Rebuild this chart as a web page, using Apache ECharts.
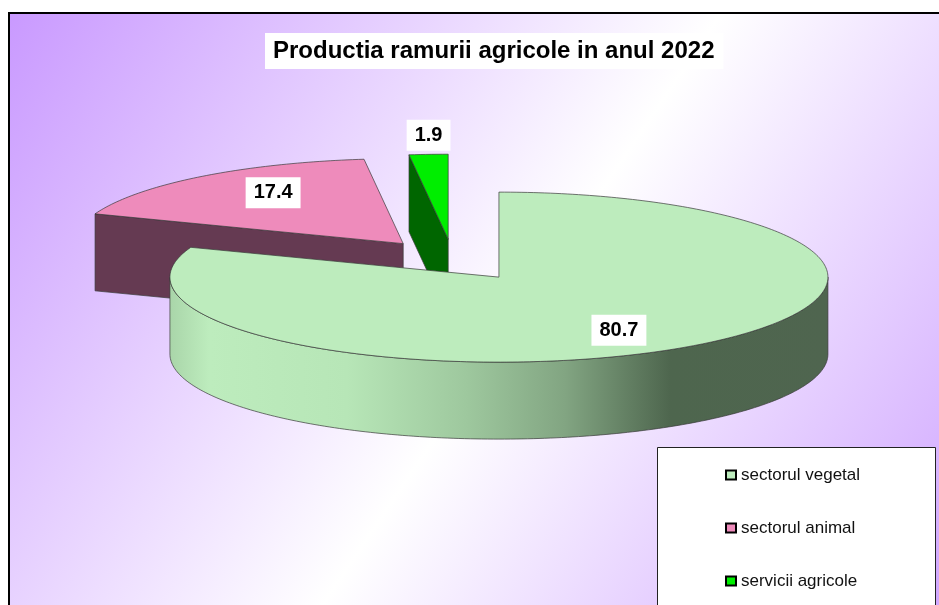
<!DOCTYPE html>
<html lang="ro">
  <head>
    <meta charset="UTF-8">
    <title>Productia ramurii agricole in anul 2022</title>
    <style>
      html, body { margin: 0; padding: 0; background: #fff; }
      #chart { width: 939px; height: 605px; }
    </style>
  </head>
  <body>
    <div id="chart"></div>
    <script src="https://cdn.jsdelivr.net/npm/echarts@6/dist/echarts.min.js"></script>
    <script type="text/javascript">
      // date
      var categories = ['sectorul vegetal', 'sectorul animal', 'servicii agricole'];
      var values = [80.7, 17.4, 1.9];

      // culori: fata de sus, perete lateral
      var topColors = ['#bdecbd', '#ee8bbb', '#00ee00'];
      var sideColors = [null, '#653a52', '#006600'];

      // geometria pie-ului 3D (elipsa)
      var CX = 453, CY = 260, RX = 329, RY = 85, H = 77, EXPLODE = 0.245;

      var total = values.reduce(function (a, b) { return a + b; }, 0);
      var cum = [];
      values.reduce(function (acc, v, i) { cum[i] = acc; return acc + v; }, 0);

      var greenWall = new echarts.graphic.LinearGradient(0, 0, 1, 0, [
        { offset: 0, color: '#a9d5a9' },
        { offset: 0.06, color: '#bdecbd' },
        { offset: 0.27, color: '#b7e6b7' },
        { offset: 0.45, color: '#9ec89e' },
        { offset: 0.6, color: '#82a582' },
        { offset: 0.76, color: '#4e664e' },
        { offset: 1, color: '#4f654f' }
      ]);

      // theta: grade, sensul acelor de ceas de la ora 12
      function pt(ax, ay, th, dy) {
        var r = th * Math.PI / 180;
        return [ax + RX * Math.sin(r), ay - RY * Math.cos(r) + (dy || 0)];
      }

      function arc(ax, ay, a, b, dy) {
        var pts = [];
        var n = Math.max(2, Math.ceil(Math.abs(b - a)));
        for (var i = 0; i <= n; i++) pts.push(pt(ax, ay, a + (b - a) * i / n, dy));
        return pts;
      }

      function renderSlice(params, api) {
        var idx = params.seriesIndex;
        var a = api.value(0) / total * 360;
        var b = a + api.value(1) / total * 360;
        var m = (a + b) / 2 * Math.PI / 180;
        var ax = CX + RX * Math.sin(m) * EXPLODE;
        var ay = CY - RY * Math.cos(m) * EXPLODE;
        var line = { stroke: '#3a3a3a', lineWidth: 0.7 };
        var children = [];

        // fete radiale (vizibile doar cand privesc spre noi)
        [[a, -90], [b, 90]].forEach(function (f) {
          var n = (f[0] + f[1]) * Math.PI / 180;
          if (-Math.cos(n) > 0.02) {
            var o = pt(ax, ay, f[0]);
            children.push({
              type: 'polygon',
              shape: { points: [[ax, ay], o, [o[0], o[1] + H], [ax, ay + H]] },
              style: Object.assign({ fill: sideColors[idx] || '#4e664e' }, line)
            });
          }
        });

        // perete exterior (jumatatea din fata: 90..270)
        var s = Math.max(a, 90), e = Math.min(b, 270);
        if (e > s) {
          var top = arc(ax, ay, s, e, 0);
          var bot = arc(ax, ay, e, s, H);
          children.push({
            type: 'polygon',
            shape: { points: top.concat(bot) },
            style: Object.assign({ fill: idx === 0 ? greenWall : sideColors[idx] }, line)
          });
        }

        // fata de sus
        children.push({
          type: 'polygon',
          shape: { points: [[ax, ay]].concat(arc(ax, ay, a, b, 0)) },
          style: Object.assign({ fill: topColors[idx] }, line)
        });

        // eticheta
        var frac = api.value(1) / total;
        var lx, ly;
        if (frac < 0.05) {
          var p = pt(ax, ay, (a + b) / 2);
          lx = p[0]; ly = p[1] - 19;
        } else {
          lx = ax + RX * Math.sin(m) * 0.64;
          ly = ay - RY * Math.cos(m) * 0.76;
        }
        children.push({
          type: 'text',
          z2: 10,
          style: {
            text: String(api.value(1)),
            x: lx, y: ly,
            align: 'center', verticalAlign: 'middle',
            font: 'bold 20px "Liberation Sans", Arial, sans-serif',
            fill: '#000',
            backgroundColor: '#fff',
            padding: [6, 8, 5, 8]
          }
        });

        return { type: 'group', children: children };
      }

      var myChart = echarts.init(document.getElementById('chart'));

      var option = {
        backgroundColor: '#fff',
        animation: false,
        graphic: {
          elements: [
            {
              type: 'rect', z: -10, silent: true,
              shape: { x: 9, y: 13, width: 980, height: 660 },
              style: {
                fill: new echarts.graphic.LinearGradient(0, 0, 1, 1, [
                  { offset: 0, color: '#c999ff' },
                  { offset: 0.5, color: '#ffffff' },
                  { offset: 1, color: '#c999ff' }
                ]),
                stroke: '#000', lineWidth: 2
              }
            },
            {
              type: 'rect', z: 3, silent: true,
              shape: { x: 657.5, y: 447.5, width: 278, height: 200 },
              style: { fill: '#fff', stroke: '#222', lineWidth: 1 }
            },
            {
              type: 'text', z: 3, silent: true,
              left: 265, top: 33,
              style: {
                text: 'Productia ramurii agricole in anul 2022',
                font: 'bold 24px "Liberation Sans", Arial, sans-serif',
                fill: '#000',
                backgroundColor: '#fff',
                padding: [6, 9, 6, 8]
              }
            }
          ]
        },
        legend: {
          orient: 'vertical',
          left: 720,
          top: 460,
          itemWidth: 10,
          itemHeight: 9,
          itemGap: 33,
          icon: 'rect',
          itemStyle: { borderColor: '#000', borderWidth: 2 },
          textStyle: {
            fontFamily: '"Liberation Sans", Arial, sans-serif',
            fontSize: 17,
            lineHeight: 20,
            color: '#111'
          },
          data: categories
        },
        series: categories.map(function (name, i) {
          return {
            name: name,
            type: 'custom',
            coordinateSystem: 'none',
            z: i === 0 ? 4 : 2,
            itemStyle: { color: topColors[i] },
            renderItem: renderSlice,
            data: [[cum[i], values[i]]]
          };
        })
      };

      myChart.setOption(option);
    </script>
  </body>
</html>
